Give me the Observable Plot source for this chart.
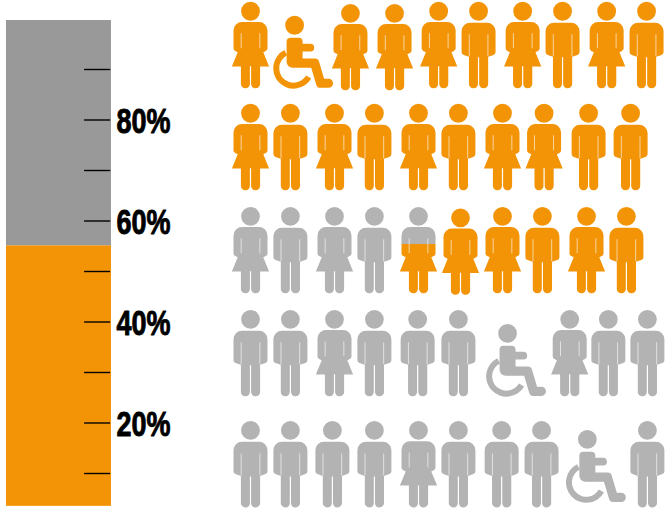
<!DOCTYPE html>
<html>
<head>
<meta charset="utf-8">
<style>html,body{margin:0;padding:0;background:#fff}svg{display:block}</style>
<script src="https://cdn.jsdelivr.net/npm/d3@7"></script>
<script src="https://cdn.jsdelivr.net/npm/@observablehq/plot@0.6"></script>
</head>
<body>
<div id="chart"></div>
<script>
// --- data ---
const barEdges = [3.5, 55.1, 99.7];          // percent: orange from first to second, grey from second to third
const barNames = ["filled", "rest"];
const barSpan = [-5.81, -3.31];              // x extent, in figure-slot units
const majorTicks = [20, 40, 60, 80];
const allTicks = [10, 20, 30, 40, 50, 60, 70, 80, 90];
const tickLabels = ["20%", "40%", "60%", "80%"];
const tickSpan = [-3.95, -3.33];
const labelSlot = -3.19;

const rowKinds = [
  ["W","C","W","W","W","M","W","M","W","M"],
  ["W","M","W","M","W","M","W","W","M","M"],
  ["W","M","W","M","W","W","W","M","W","M"],
  ["M","M","W","M","M","M","C","W","M","M"],
  ["M","M","M","M","W","M","M","M","C","M"]
];
const rowSlots = [
  [0, 1.05, 2.38, 3.43, 4.48, 5.43, 6.48, 7.43, 8.48, 9.43],
  [0, 0.95, 2, 2.95, 4, 4.95, 6, 6.99, 8.05, 9.05],
  [0, 0.95, 2, 2.95, 4, 5, 6, 6.95, 8, 8.95],
  [0, 0.95, 2, 2.95, 3.98, 4.95, 6.12, 7.6, 8.52, 9.45],
  [0, 0.95, 1.95, 2.95, 4, 4.95, 5.98, 6.93, 8.02, 9.45]
];
const rowLevels = [
  [94.8, 94.8, 94.4, 94.4, 94.8, 94.8, 94.8, 94.8, 94.8, 94.8],
  [74.6, 74.6, 74.6, 74.6, 74.6, 74.6, 74.6, 74.6, 74.6, 74.6],
  [54.2, 54.2, 54.2, 54.2, 54.2, 53.9, 54.2, 54.2, 54.2, 54.2],
  [33.8, 33.8, 33.8, 33.8, 33.8, 33.8, 33.8, 33.8, 33.8, 33.8],
  [11.8, 11.8, 11.8, 11.8, 11.8, 11.8, 11.8, 11.8, 12.8, 11.8]
];
const rowStatus = [
  Array(10).fill("on"),
  Array(10).fill("on"),
  ["off","off","off","off","split","on","on","on","on","on"],
  Array(10).fill("off"),
  Array(10).fill("off")
];
const splitShare = 0.43;   // part of the split figure, from the top, that stays grey

const ORANGE = "#f39407", GREY_BAR = "#999999", GREY_FIG = "#b3b3b3";

const figures = rowKinds.flatMap((kinds, r) => kinds.map((kind, c) => ({
  kind, slot: rowSlots[r][c], level: rowLevels[r][c], status: rowStatus[r][c]
})));
const barSegments = barNames.map((name, i) => ({name, y1: barEdges[i], y2: barEdges[i + 1]}));

// --- glyphs as custom Plot symbols (origin: figure middle, 34 below the head centre) ---
const OY = -34;
function poly(ctx, k, pts) {
  const n = pts.length;
  const P = i => pts[(i + n) % n];
  const a = P(n - 1), b = P(0);
  ctx.moveTo(k * (a[0] + b[0]) / 2, k * ((a[1] + b[1]) / 2 + OY));
  for (let i = 0; i < n; i++) {
    const p = P(i), q = P(i + 1), r = p[2] || 0;
    if (r) ctx.arcTo(k * p[0], k * (p[1] + OY), k * q[0], k * (q[1] + OY), k * r);
    else ctx.lineTo(k * p[0], k * (p[1] + OY));
  }
  ctx.closePath();
}
function head(ctx, k, dy) {
  ctx.moveTo(k * 9.4, k * (dy + OY));
  ctx.arc(0, k * (dy + OY), k * 9.4, 0, 2 * Math.PI);
  ctx.closePath();
}
function slit(ctx, k, x, y0, y1) {
  const w = 0.3;
  ctx.moveTo(k * (x - w), k * (y0 + OY));
  ctx.lineTo(k * (x - w), k * (y1 + OY));
  ctx.lineTo(k * (x + w), k * (y1 + OY));
  ctx.lineTo(k * (x + w), k * (y0 + OY));
  ctx.closePath();
}
const man = {draw(ctx, size) {
  const k = Math.sqrt(size / Math.PI);
  head(ctx, k, 0);
  poly(ctx, k, [
    [-17, 11.4, 8.5], [17, 11.4, 8.5], [17, 43, 3], [9.6, 45.5],
    [9.6, 77, 4.4], [0.6, 77, 4.2], [0.6, 46], [-0.6, 46], [-0.6, 77, 4.2], [-9.6, 77, 4.4],
    [-9.6, 45.5], [-17, 43, 3]
  ]);
  slit(ctx, k, -9.4, 23, 45); slit(ctx, k, 9.4, 23, 45);
}};
const woman = {draw(ctx, size) {
  const k = Math.sqrt(size / Math.PI);
  head(ctx, k, 0);
  poly(ctx, k, [
    [-17, 10.8, 8.5], [17, 10.8, 8.5], [17, 39, 3], [12.8, 41], [18.6, 55.2], [9.6, 55.2],
    [9.6, 77, 4.4], [0.6, 77, 4.2], [0.6, 55], [-0.6, 55], [-0.6, 77, 4.2], [-9.6, 77, 4.4],
    [-9.6, 55.2], [-18.6, 55.2], [-12.8, 41], [-17, 39, 3]
  ]);
  slit(ctx, k, -9.4, 22, 37); slit(ctx, k, 9.4, 22, 37);
}};
const chair = {draw(ctx, size) {
  const k = Math.sqrt(size / Math.PI), D = 14;
  head(ctx, k, D);
  poly(ctx, k, [
    [-8, 12.4 + D, 4], [8, 12.4 + D, 4], [8, 18.4 + D], [19.6, 18.4 + D, 3.8], [19.6, 26.2 + D, 3.8],
    [8, 26.2 + D], [8, 33.2 + D], [23.5, 33.2 + D, 4], [29.5, 53.4 + D], [38.4, 53.4 + D, 4.4],
    [38.4, 62.6 + D, 4.4], [22.6, 62.6 + D, 4], [16.6, 42.4 + D], [-8, 42.4 + D, 6]
  ]);
  const cx = -1, cy = 43 + D, a0 = -117 * Math.PI / 180, a1 = 30 * Math.PI / 180;
  ctx.moveTo(k * (cx + 20.4 * Math.cos(a0)), k * (cy + OY + 20.4 * Math.sin(a0)));
  ctx.arc(k * cx, k * (cy + OY), k * 20.4, a0, a1, true);
  ctx.lineTo(k * (cx + 14.4 * Math.cos(a1)), k * (cy + OY + 14.4 * Math.sin(a1)));
  ctx.arc(k * cx, k * (cy + OY), k * 14.4, a1, a0, false);
  ctx.closePath();
}};
const glyphs = {M: man, W: woman, C: chair};

const gradient = () => {
  const defs = d3.create("svg:defs");
  const g = defs.append("linearGradient").attr("id", "split")
    .attr("x1", 0).attr("y1", 0).attr("x2", 0).attr("y2", 1);
  [[0, GREY_FIG], [splitShare, GREY_FIG], [splitShare, ORANGE], [1, ORANGE]].forEach(([o, c]) =>
    g.append("stop").attr("offset", o).attr("stop-color", c));
  return defs.node();
};

const chart = Plot.plot({
  width: 671,
  height: 508,
  margin: 0,
  style: {background: "#fff"},
  x: {domain: [0, 10], range: [250, 670], axis: null},
  y: {domain: [0, 100], range: [523.5, 18.5], axis: null},
  color: {type: "ordinal", domain: ["off", "on", "split"], range: [GREY_FIG, ORANGE, "url(#split)"]},
  marks: [
    gradient,
    Plot.rect(barSegments, {
      x1: () => barSpan[0], x2: () => barSpan[1], y1: "y1", y2: "y2",
      fill: d => d.name === "filled" ? ORANGE : GREY_BAR
    }),
    Plot.ruleY(allTicks, {y: d => d, x1: () => tickSpan[0], x2: () => tickSpan[1], stroke: "#000", strokeWidth: 1.4}),
    Plot.text(majorTicks, {
      x: () => labelSlot, y: d => d, text: (d, i) => tickLabels[i],
      textAnchor: "start", dy: 1.5,
      fontFamily: "'Liberation Sans',sans-serif",
      fontWeight: 700, fontSize: 35, fill: "#000", stroke: "#000", strokeWidth: 0.9
    }),
    ...Object.keys(glyphs).map(kind =>
      Plot.dot(figures.filter(f => f.kind === kind), {
        x: "slot", y: "level", r: 1, symbol: glyphs[kind], fill: "status", stroke: "none"
      })
    )
  ]
});
// condensed look of the labels: no narrow bold face is installed
d3.select(chart).selectAll("text")
  .attr("textLength", 54)
  .attr("lengthAdjust", "spacingAndGlyphs");
document.getElementById("chart").append(chart);
</script>
</body>
</html>
